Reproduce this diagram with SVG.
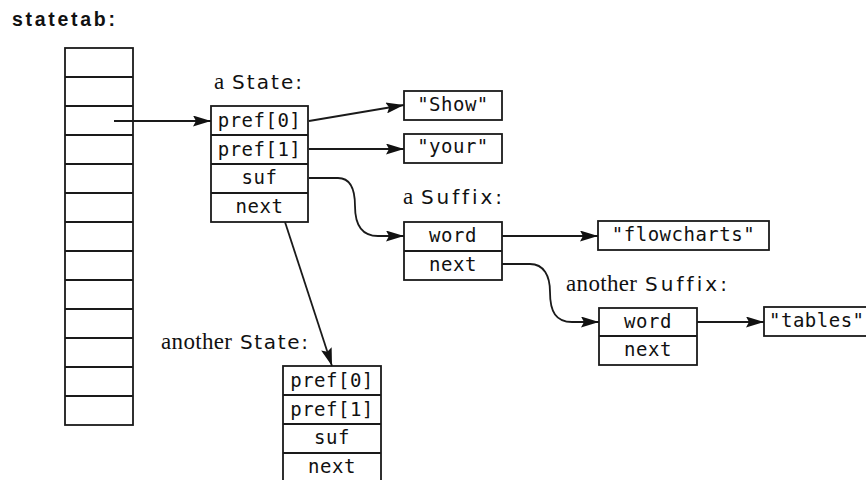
<svg xmlns="http://www.w3.org/2000/svg" width="866" height="480" viewBox="0 0 866 480">
<defs>
<marker id="ah" markerUnits="userSpaceOnUse" markerWidth="18" markerHeight="11" refX="18" refY="5.5" orient="auto">
<path d="M0,0 L18,5.5 L0,11 L3,5.5 z" fill="#111"/>
</marker>
<style>
text{font-variant-ligatures:none;font-feature-settings:"liga" 0}
.box{fill:#fff;stroke:#1a1a1a;stroke-width:1.8}
.ln{fill:none;stroke:#1a1a1a;stroke-width:1.8}
.code{font-family:"DejaVu Sans Mono","Liberation Mono",monospace;font-size:19px;fill:#111;letter-spacing:0.5px}
.ser{font-family:"Liberation Serif","DejaVu Serif",serif;font-size:23px;fill:#111}
.san{font-family:"DejaVu Sans","Liberation Sans",sans-serif;font-size:20px;fill:#111}
.conn{fill:none;stroke:#1a1a1a;stroke-width:1.8;marker-end:url(#ah)}
</style>
</defs>
<rect width="866" height="480" fill="#fff"/>
<text x="12" y="25.5" font-family="'Liberation Sans',Arial,sans-serif" font-weight="bold" font-size="19.5" fill="#111" textLength="103" lengthAdjust="spacing">statetab:</text>

<g id="statetab">
<rect class="box" x="65" y="48" width="68" height="377"/>
<path class="ln" d="M65,77H133M65,106H133M65,135H133M65,164H133M65,193H133M65,222H133M65,251H133M65,280H133M65,309H133M65,338H133M65,367H133M65,396H133"/>
</g>

<g id="aState">
<text class="ser" x="214" y="89">a</text><text class="san" x="232" y="89" textLength="70" lengthAdjust="spacing">State:</text>
<rect class="box" x="211" y="106" width="97" height="116"/>
<path class="ln" d="M211,135H308M211,164H308M211,193H308"/>
<text class="code" x="259.5" y="127" text-anchor="middle">pref[0]</text>
<text class="code" x="259.5" y="156" text-anchor="middle">pref[1]</text>
<text class="code" x="259.5" y="184" text-anchor="middle">suf</text>
<text class="code" x="259.5" y="213" text-anchor="middle">next</text>
</g>

<g id="show">
<rect class="box" x="404" y="91" width="98" height="29"/>
<text class="code" x="453" y="111" text-anchor="middle">"Show"</text>
</g>

<g id="your">
<rect class="box" x="404" y="134" width="98" height="29"/>
<text class="code" x="453" y="153" text-anchor="middle">"your"</text>
</g>

<g id="aSuffix">
<text class="ser" x="403" y="204">a</text><text class="san" x="421" y="204" textLength="81" lengthAdjust="spacing">Suffix:</text>
<rect class="box" x="404" y="222" width="98" height="58"/>
<path class="ln" d="M404,251H502"/>
<text class="code" x="453" y="242" text-anchor="middle">word</text>
<text class="code" x="453" y="271" text-anchor="middle">next</text>
</g>

<g id="flowcharts">
<rect class="box" x="598" y="221" width="171" height="29"/>
<text class="code" x="683.5" y="241" text-anchor="middle">"flowcharts"</text>
</g>

<g id="anotherSuffix">
<text class="ser" x="566" y="291" textLength="71" lengthAdjust="spacing">another</text><text class="san" x="645" y="291" textLength="82" lengthAdjust="spacing">Suffix:</text>
<rect class="box" x="599" y="308" width="98" height="57"/>
<path class="ln" d="M599,336H697"/>
<text class="code" x="648" y="328" text-anchor="middle">word</text>
<text class="code" x="648" y="356" text-anchor="middle">next</text>
</g>

<g id="tables">
<rect class="box" x="764" y="307" width="120" height="29"/>
<text class="code" x="769" y="327">"tables"</text>
</g>

<g id="anotherState">
<text class="ser" x="161" y="349" textLength="71" lengthAdjust="spacing">another</text><text class="san" x="240" y="349" textLength="68" lengthAdjust="spacing">State:</text>
<rect class="box" x="283" y="366" width="98" height="116"/>
<path class="ln" d="M283,395H381M283,424H381M283,453H381"/>
<text class="code" x="332" y="387" text-anchor="middle">pref[0]</text>
<text class="code" x="332" y="416" text-anchor="middle">pref[1]</text>
<text class="code" x="332" y="444" text-anchor="middle">suf</text>
<text class="code" x="332" y="473" text-anchor="middle">next</text>
</g>

<g id="connectors">
<path class="conn" d="M114,121H211"/>
<path class="conn" d="M309,121L404,105"/>
<path class="conn" d="M309,149H404"/>
<path class="conn" d="M309,178H338C351,178 355,190 355,206C355,226 362,236 378,236H404"/>
<path class="conn" d="M285,222L332,366"/>
<path class="conn" d="M502,236H598"/>
<path class="conn" d="M502,264H530C544,264 550,276 550,292C550,312 556,322 572,322H599"/>
<path class="conn" d="M697,322H764"/>
</g>
</svg>
